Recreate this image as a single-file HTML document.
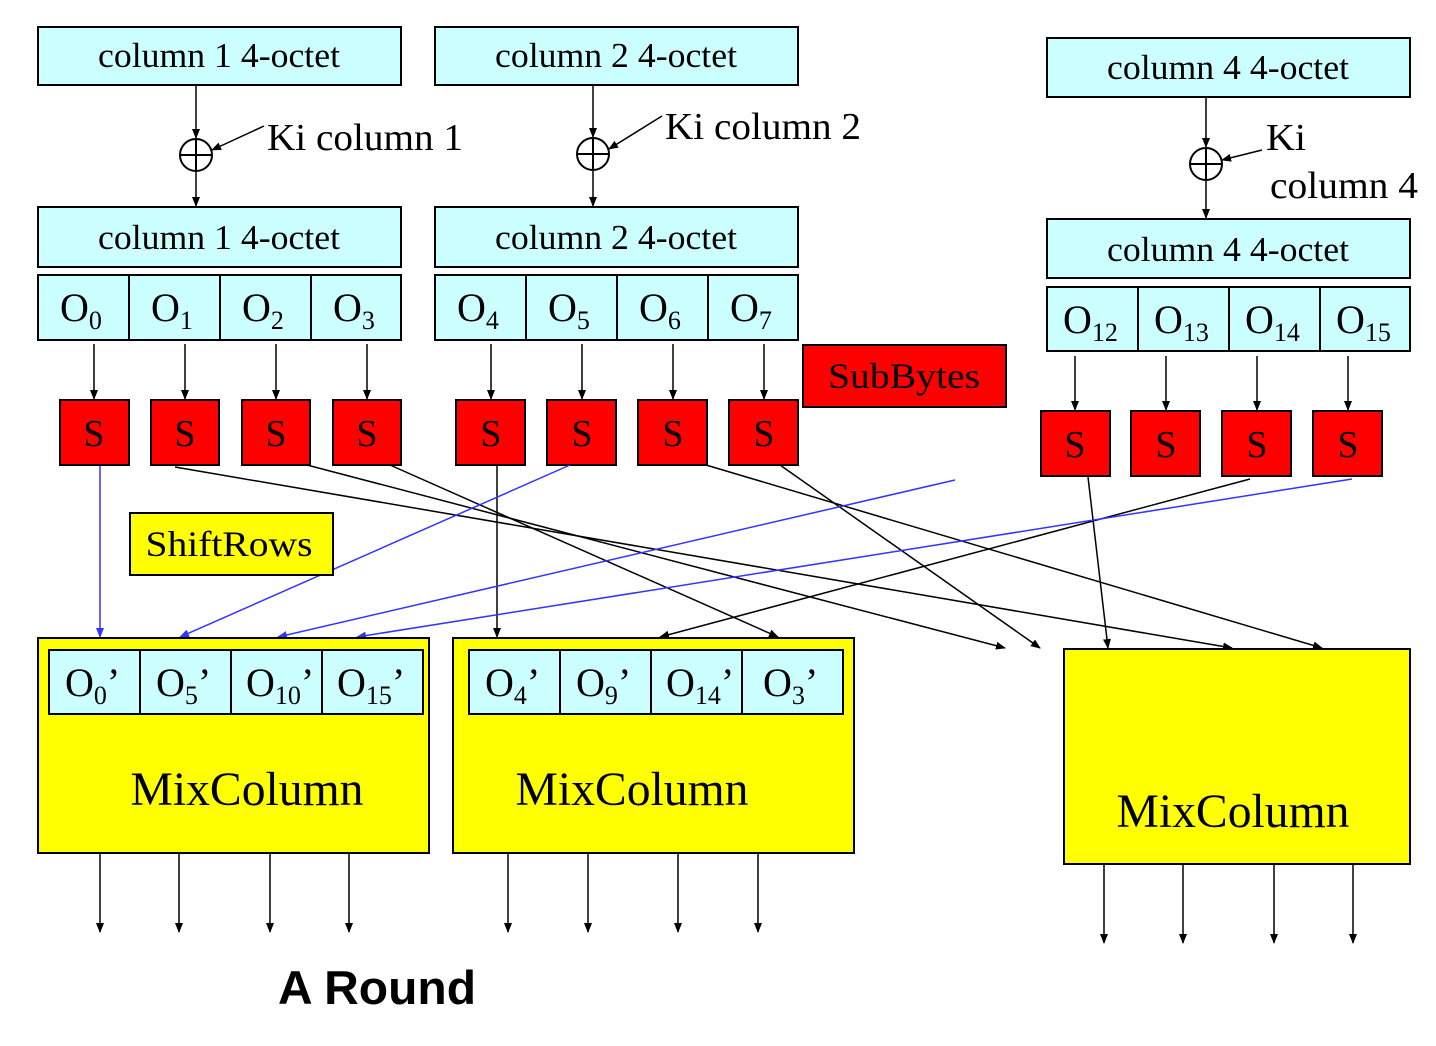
<!DOCTYPE html>
<html><head><style>
body{margin:0;background:#fff}
svg{display:block}
text{font-family:"Liberation Serif",serif;fill:#000}
</style></head><body>
<svg width="1436" height="1046" viewBox="0 0 1436 1046" xmlns="http://www.w3.org/2000/svg">
<defs>
<marker id="a" markerWidth="10" markerHeight="8" refX="9" refY="4" orient="auto" markerUnits="userSpaceOnUse"><path d="M0,0 L10,4 L0,8 Z" fill="#000"/></marker>
<marker id="b" markerWidth="10" markerHeight="8" refX="9" refY="4" orient="auto" markerUnits="userSpaceOnUse"><path d="M0,0 L10,4 L0,8 Z" fill="#33f"/></marker>
</defs>
<g stroke="#000" stroke-width="2" fill="#ccffff">
<rect x="38" y="27" width="363" height="58"/>
<rect x="435" y="27" width="363" height="58"/>
<rect x="1047" y="38" width="363" height="59"/>
<rect x="38" y="207" width="363" height="60"/>
<rect x="435" y="207" width="363" height="60"/>
<rect x="1047" y="219" width="363" height="59"/>
<rect x="38" y="275" width="363" height="65"/>
<rect x="435" y="275" width="363" height="65"/>
<rect x="1047" y="287" width="363" height="64"/>
<path d="M129,275V340M220,275V340M311,275V340M526,275V340M617,275V340M708,275V340M1138,287V351M1229,287V351M1320,287V351" fill="none"/>
</g>
<g font-size="35" text-anchor="middle">
<text x="219" y="67" textLength="242" lengthAdjust="spacingAndGlyphs">column 1 4-octet</text>
<text x="616" y="67" textLength="242" lengthAdjust="spacingAndGlyphs">column 2 4-octet</text>
<text x="1228" y="79" textLength="242" lengthAdjust="spacingAndGlyphs">column 4 4-octet</text>
<text x="219" y="249" textLength="242" lengthAdjust="spacingAndGlyphs">column 1 4-octet</text>
<text x="616" y="249" textLength="242" lengthAdjust="spacingAndGlyphs">column 2 4-octet</text>
<text x="1228" y="261" textLength="242" lengthAdjust="spacingAndGlyphs">column 4 4-octet</text>
</g>
<g font-size="40">
<text x="60" y="321">O<tspan font-size="26" dy="8">0</tspan></text>
<text x="151" y="321">O<tspan font-size="26" dy="8">1</tspan></text>
<text x="242" y="321">O<tspan font-size="26" dy="8">2</tspan></text>
<text x="333" y="321">O<tspan font-size="26" dy="8">3</tspan></text>
<text x="457" y="321">O<tspan font-size="26" dy="8">4</tspan></text>
<text x="548" y="321">O<tspan font-size="26" dy="8">5</tspan></text>
<text x="639" y="321">O<tspan font-size="26" dy="8">6</tspan></text>
<text x="730" y="321">O<tspan font-size="26" dy="8">7</tspan></text>
<text x="1063" y="333">O<tspan font-size="26" dy="8">12</tspan></text>
<text x="1154" y="333">O<tspan font-size="26" dy="8">13</tspan></text>
<text x="1245" y="333">O<tspan font-size="26" dy="8">14</tspan></text>
<text x="1336" y="333">O<tspan font-size="26" dy="8">15</tspan></text>
</g>
<g stroke="#000" stroke-width="2" fill="none">
<circle cx="196" cy="155" r="16"/><path d="M180,155H212M196,139V171"/>
<circle cx="593" cy="154" r="16"/><path d="M577,154H609M593,138V170"/>
<circle cx="1206" cy="164" r="16"/><path d="M1190,164H1222M1206,148V180"/>
</g>
<g stroke="#000" stroke-width="1.5" marker-end="url(#a)">
<line x1="196" y1="86" x2="196" y2="138"/>
<line x1="196" y1="172" x2="196" y2="206"/>
<line x1="264" y1="126" x2="212" y2="150"/>
<line x1="593" y1="86" x2="593" y2="137"/>
<line x1="593" y1="171" x2="593" y2="206"/>
<line x1="662" y1="116" x2="609" y2="149"/>
<line x1="1206" y1="98" x2="1206" y2="147"/>
<line x1="1206" y1="181" x2="1206" y2="218"/>
<line x1="1262" y1="150" x2="1222" y2="160"/>
<line x1="94" y1="344" x2="94" y2="399"/>
<line x1="185" y1="344" x2="185" y2="399"/>
<line x1="276" y1="344" x2="276" y2="399"/>
<line x1="367" y1="344" x2="367" y2="399"/>
<line x1="491" y1="344" x2="491" y2="399"/>
<line x1="582" y1="344" x2="582" y2="399"/>
<line x1="673" y1="344" x2="673" y2="399"/>
<line x1="764" y1="344" x2="764" y2="399"/>
<line x1="1075" y1="356" x2="1075" y2="410"/>
<line x1="1166" y1="356" x2="1166" y2="410"/>
<line x1="1257" y1="356" x2="1257" y2="410"/>
<line x1="1348" y1="356" x2="1348" y2="410"/>
</g>
<g font-size="38">
<text x="267" y="150" textLength="196" lengthAdjust="spacingAndGlyphs">Ki column 1</text>
<text x="665" y="139" textLength="196" lengthAdjust="spacingAndGlyphs">Ki column 2</text>
<text x="1266" y="150" textLength="40" lengthAdjust="spacingAndGlyphs">Ki</text>
<text x="1270" y="198" textLength="148" lengthAdjust="spacingAndGlyphs">column 4</text>
</g>
<g stroke="#000" stroke-width="2" fill="#ff0000">
<rect x="60" y="400" width="69" height="65"/><rect x="151" y="400" width="68" height="65"/><rect x="242" y="400" width="68" height="65"/><rect x="333" y="400" width="68" height="65"/>
<rect x="456" y="400" width="69" height="65"/><rect x="547" y="400" width="69" height="65"/><rect x="638" y="400" width="69" height="65"/><rect x="729" y="400" width="69" height="65"/>
<rect x="1041" y="411" width="69" height="65"/><rect x="1131" y="411" width="69" height="65"/><rect x="1222" y="411" width="69" height="65"/><rect x="1313" y="411" width="69" height="65"/>
<rect x="803" y="345" width="203" height="62"/>
</g>
<g font-size="38" text-anchor="middle">
<text x="94" y="446">S</text><text x="185" y="446">S</text><text x="276" y="446">S</text><text x="367" y="446">S</text>
<text x="491" y="446">S</text><text x="582" y="446">S</text><text x="673" y="446">S</text><text x="764" y="446">S</text>
<text x="1075" y="457">S</text><text x="1166" y="457">S</text><text x="1257" y="457">S</text><text x="1348" y="457">S</text>
<text x="904" y="388" font-size="36" textLength="152" lengthAdjust="spacingAndGlyphs">SubBytes</text>
</g>
<g stroke="#000" stroke-width="1.5" marker-end="url(#a)">
<line x1="175" y1="467" x2="1232" y2="648"/>
<line x1="307" y1="465" x2="1005" y2="648"/>
<line x1="390" y1="465" x2="778" y2="637"/>
<line x1="497" y1="465" x2="497" y2="637"/>
<line x1="706" y1="465" x2="1322" y2="648"/>
<line x1="780" y1="465" x2="1040" y2="648"/>
<line x1="1088" y1="477" x2="1108" y2="648"/>
<line x1="1250" y1="479" x2="660" y2="637"/>
</g>
<g stroke="#33f" stroke-width="1.5" marker-end="url(#b)">
<line x1="100" y1="466" x2="100" y2="637"/>
<line x1="570" y1="465" x2="180" y2="637"/>
<line x1="955" y1="480" x2="278" y2="637"/>
<line x1="1352" y1="479" x2="357" y2="637"/>
</g>
<rect x="130" y="513" width="203" height="62" fill="#ffff00" stroke="#000" stroke-width="2"/>
<text x="229" y="556" font-size="36" text-anchor="middle" textLength="167" lengthAdjust="spacingAndGlyphs">ShiftRows</text>
<g stroke="#000" stroke-width="2">
<rect x="38" y="638" width="391" height="215" fill="#ffff00"/>
<rect x="453" y="638" width="401" height="215" fill="#ffff00"/>
<rect x="1064" y="649" width="346" height="215" fill="#ffff00"/>
<rect x="49" y="650" width="374" height="64" fill="#ccffff"/>
<rect x="469" y="650" width="374" height="64" fill="#ccffff"/>
<path d="M140,650V714M231,650V714M322,650V714M560,650V714M651,650V714M742,650V714" fill="none"/>
</g>
<g font-size="40">
<text x="65" y="696">O<tspan font-size="26" dy="8">0</tspan><tspan dy="-8">’</tspan></text>
<text x="156" y="696">O<tspan font-size="26" dy="8">5</tspan><tspan dy="-8">’</tspan></text>
<text x="246" y="696">O<tspan font-size="26" dy="8">10</tspan><tspan dy="-8">’</tspan></text>
<text x="337" y="696">O<tspan font-size="26" dy="8">15</tspan><tspan dy="-8">’</tspan></text>
<text x="485" y="696">O<tspan font-size="26" dy="8">4</tspan><tspan dy="-8">’</tspan></text>
<text x="576" y="696">O<tspan font-size="26" dy="8">9</tspan><tspan dy="-8">’</tspan></text>
<text x="666" y="696">O<tspan font-size="26" dy="8">14</tspan><tspan dy="-8">’</tspan></text>
<text x="763" y="696">O<tspan font-size="26" dy="8">3</tspan><tspan dy="-8">’</tspan></text>
</g>
<g font-size="48" text-anchor="middle">
<text x="247" y="805" textLength="233" lengthAdjust="spacingAndGlyphs">MixColumn</text>
<text x="632" y="805" textLength="233" lengthAdjust="spacingAndGlyphs">MixColumn</text>
<text x="1233" y="827" textLength="233" lengthAdjust="spacingAndGlyphs">MixColumn</text>
</g>
<g stroke="#000" stroke-width="1.5" marker-end="url(#a)">
<line x1="100" y1="854" x2="100" y2="932"/><line x1="179" y1="854" x2="179" y2="932"/><line x1="270" y1="854" x2="270" y2="932"/><line x1="349" y1="854" x2="349" y2="932"/>
<line x1="508" y1="854" x2="508" y2="932"/><line x1="588" y1="854" x2="588" y2="932"/><line x1="678" y1="854" x2="678" y2="932"/><line x1="758" y1="854" x2="758" y2="932"/>
<line x1="1104" y1="865" x2="1104" y2="943"/><line x1="1183" y1="865" x2="1183" y2="943"/><line x1="1274" y1="865" x2="1274" y2="943"/><line x1="1353" y1="865" x2="1353" y2="943"/>
</g>
<text x="278" y="1004" font-weight="bold" font-size="47" textLength="198" lengthAdjust="spacingAndGlyphs" style="font-family:'Liberation Sans',sans-serif">A Round</text>
</svg>
</body></html>
